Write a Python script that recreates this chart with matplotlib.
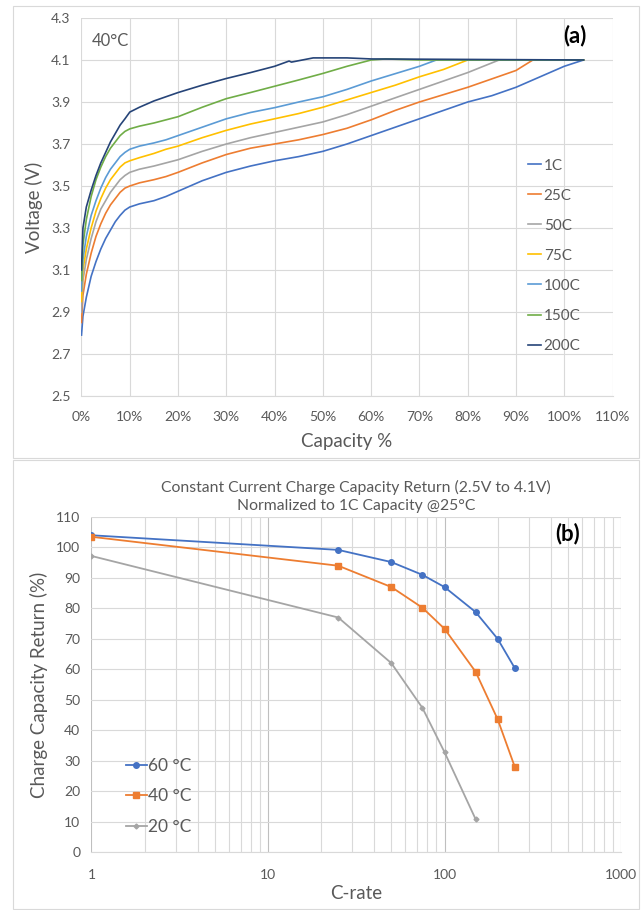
import matplotlib.pyplot as plt
from matplotlib.patches import Rectangle
from matplotlib.ticker import FixedLocator, LogLocator, NullFormatter, FuncFormatter

plt.rcParams['font.family'] = ['Lato', 'DejaVu Sans']

# ---- panel (a): charge curves at 40°C ----
ea = [0, 0.3, 1, 2, 3, 4, 5, 6, 7, 8, 9, 10, 12, 15, 17.5, 20, 25, 30, 35, 40]

cap_1c = ea + [45, 50, 55, 60, 65, 70, 75, 80, 85, 90, 95, 100, 104]
v_1c = [2.79, 2.88, 2.97, 3.07, 3.14, 3.2, 3.25, 3.29, 3.33, 3.36,
        3.385, 3.40, 3.415, 3.43, 3.45, 3.475, 3.525, 3.565, 3.595, 3.62,
        3.64, 3.665, 3.70, 3.74, 3.78, 3.82, 3.86, 3.90, 3.93, 3.97, 4.02, 4.07, 4.10]

cap_25c = ea + [45, 50, 55, 60, 65, 70, 75, 80, 85, 90, 93.5, 104]
v_25c = [2.85, 2.98, 3.08, 3.18, 3.26, 3.32, 3.37, 3.41, 3.44, 3.47,
         3.49, 3.50, 3.515, 3.53, 3.545, 3.565, 3.61, 3.65, 3.68, 3.70,
         3.72, 3.745, 3.775, 3.815, 3.86, 3.90, 3.935, 3.97, 4.01, 4.05, 4.10, 4.10]

cap_50c = ea + [45, 50, 55, 60, 65, 70, 75, 80, 86.5, 104]
v_50c = [2.9, 3.05, 3.15, 3.25, 3.33, 3.39, 3.43, 3.47, 3.50, 3.53,
         3.55, 3.565, 3.58, 3.595, 3.61, 3.625, 3.665, 3.70, 3.73, 3.755,
         3.78, 3.805, 3.84, 3.88, 3.92, 3.96, 4.00, 4.04, 4.10, 4.10]

cap_75c = ea + [45, 50, 55, 60, 65, 70, 75, 80, 104]
v_75c = [2.95, 3.1, 3.2, 3.3, 3.38, 3.44, 3.49, 3.53, 3.56, 3.59,
         3.61, 3.62, 3.635, 3.655, 3.675, 3.69, 3.73, 3.765, 3.795, 3.82,
         3.845, 3.875, 3.91, 3.945, 3.98, 4.02, 4.055, 4.10, 4.10]

cap_100c = ea + [45, 50, 55, 60, 65, 70, 73.5, 104]
v_100c = [3.0, 3.15, 3.26, 3.36, 3.43, 3.49, 3.54, 3.58, 3.61, 3.64,
          3.66, 3.675, 3.69, 3.705, 3.72, 3.74, 3.78, 3.82, 3.85, 3.873,
          3.90, 3.925, 3.96, 4.00, 4.035, 4.07, 4.10, 4.10]

cap_150c = ea + [45, 50, 55, 60, 63, 70, 104]
v_150c = [3.05, 3.22, 3.34, 3.45, 3.53, 3.59, 3.64, 3.68, 3.71, 3.74,
          3.76, 3.772, 3.785, 3.80, 3.815, 3.83, 3.875, 3.916, 3.945, 3.975,
          4.005, 4.036, 4.07, 4.10, 4.105, 4.10, 4.10]

cap_200c = ea + [43, 43.5, 48, 55, 60, 104]
v_200c = [3.1, 3.3, 3.40, 3.48, 3.55, 3.61, 3.66, 3.71, 3.75, 3.79,
          3.82, 3.852, 3.875, 3.905, 3.925, 3.945, 3.98, 4.012, 4.04, 4.07,
          4.095, 4.09, 4.11, 4.11, 4.105, 4.10]

rate_labels = ['1C', '25C', '50C', '75C', '100C', '150C', '200C']
rate_colors = ['#4472C4', '#ED7D31', '#A5A5A5', '#FFC000', '#5B9BD5', '#70AD47', '#264478']
caps = [cap_1c, cap_25c, cap_50c, cap_75c, cap_100c, cap_150c, cap_200c]
volts = [v_1c, v_25c, v_50c, v_75c, v_100c, v_150c, v_200c]

# ---- panel (b): capacity return vs C-rate ----
c_rate = [1, 25, 50, 75, 100, 150, 200, 250]
ret_60 = [104, 99.2, 95.2, 91, 87, 78.8, 70, 60.4]
ret_40 = [103.5, 94, 87, 80.2, 73.3, 59.2, 43.6, 28]
c_rate_20 = [1, 25, 50, 75, 100, 150]
ret_20 = [97.2, 77, 62, 47.3, 32.8, 10.8]

txt = '#595959'
grid = '#D9D9D9'

fig = plt.figure(figsize=(6.42, 9.10), dpi=100)
W, H = 642, 910

def box(x0, y0, x1, y1):
    return [x0 / W, 1 - y1 / H, (x1 - x0) / W, (y1 - y0) / H]

# panel frames
for (x0, y0, x1, y1) in [(13, 6, 639, 458), (13, 460, 639, 909)]:
    fig.patches.append(Rectangle((x0 / W, 1 - y1 / H), (x1 - x0) / W, (y1 - y0) / H,
                                 transform=fig.transFigure, fill=False,
                                 edgecolor='#D9D9D9', linewidth=0.8))

# ---------- (a) ----------
ax = fig.add_axes(box(81.5, 18, 612.5, 396))
for c, v, lab, col in zip(caps, volts, rate_labels, rate_colors):
    ax.plot(c, v, color=col, linewidth=1.2, label=lab)
ax.set_xlim(0, 110)
ax.set_ylim(2.5, 4.3)
ax.set_xticks(range(0, 111, 10))
ax.set_yticks([2.5, 2.7, 2.9, 3.1, 3.3, 3.5, 3.7, 3.9, 4.1, 4.3])
ax.xaxis.set_major_formatter(FuncFormatter(lambda x, p: f'{x:.0f}%'))
ax.yaxis.set_major_formatter(FuncFormatter(lambda y, p: f'{y:.1f}'))
ax.grid(True, color=grid, linewidth=0.8)
ax.set_axisbelow(True)
for s in ax.spines.values():
    s.set_visible(False)
ax.spines['bottom'].set_visible(True)
ax.spines['bottom'].set_color(grid)
ax.tick_params(length=0, labelsize=10, colors=txt, pad=8)
ax.tick_params(axis='x', pad=11)
ax.set_xlabel('Capacity %', fontsize=13.5, color=txt, labelpad=7)
ax.set_ylabel('Voltage (V)', fontsize=13.5, color=txt, labelpad=6)
ax.text(0.02, 0.94, '40°C', transform=ax.transAxes, fontsize=12, color=txt, va='center')
ax.text(0.93, 0.955, '(a)', transform=ax.transAxes, fontsize=16, fontweight='bold',
        va='center', ha='center')
ax.legend(loc='upper left', bbox_to_anchor=(520 / W, 1 - 151 / H),
          bbox_transform=fig.transFigure, frameon=False, fontsize=11,
          handlelength=0.9, handletextpad=0.15, labelspacing=1.05,
          borderpad=0, labelcolor=txt)

# ---------- (b) ----------
bx = fig.add_axes(box(91.5, 517, 621, 852))
bx.plot(c_rate, ret_60, color='#4472C4', marker='o', markersize=4, linewidth=1.3, label='60 °C')
bx.plot(c_rate, ret_40, color='#ED7D31', marker='s', markersize=4.5, linewidth=1.3, label='40 °C')
bx.plot(c_rate_20, ret_20, color='#A5A5A5', marker='D', markersize=2.5, linewidth=1.3, label='20 °C')
bx.set_xscale('log')
bx.set_xlim(1, 1000)
bx.set_ylim(0, 110)
bx.set_yticks(range(0, 111, 10))
bx.xaxis.set_major_locator(FixedLocator([1, 10, 100, 1000]))
bx.xaxis.set_major_formatter(FuncFormatter(lambda x, p: f'{x:.0f}'))
bx.xaxis.set_minor_locator(LogLocator(base=10, subs=range(2, 10)))
bx.xaxis.set_minor_formatter(NullFormatter())
bx.grid(True, which='major', axis='x', color='#BFBFBF', linewidth=0.8)
bx.grid(True, which='minor', axis='x', color=grid, linewidth=0.8)
bx.grid(True, which='major', axis='y', color=grid, linewidth=0.8)
bx.set_axisbelow(True)
for s in bx.spines.values():
    s.set_visible(False)
bx.spines['bottom'].set_visible(True)
bx.spines['bottom'].set_color(grid)
bx.tick_params(which='both', length=0, labelsize=10, colors=txt, pad=8)
bx.tick_params(axis='x', pad=12)
bx.set_xlabel('C-rate', fontsize=13.5, color=txt, labelpad=3)
bx.set_ylabel('Charge Capacity Return (%)', fontsize=13.5, color=txt, labelpad=6)
bx.set_title('Constant Current Charge Capacity Return (2.5V to 4.1V)\nNormalized to 1C Capacity @25°C',
             fontsize=11.3, color=txt, pad=5, linespacing=1.4)
bx.text(0.9, 0.95, '(b)', transform=bx.transAxes, fontsize=16, fontweight='bold',
        va='center', ha='center')
bx.legend(loc='upper left', bbox_to_anchor=(117 / W, 1 - 749 / H),
          bbox_transform=fig.transFigure, frameon=False, fontsize=12.5,
          handlelength=1.2, handletextpad=0.1, labelspacing=0.85,
          borderpad=0, labelcolor=txt)

fig.savefig('out.png', dpi=100)
